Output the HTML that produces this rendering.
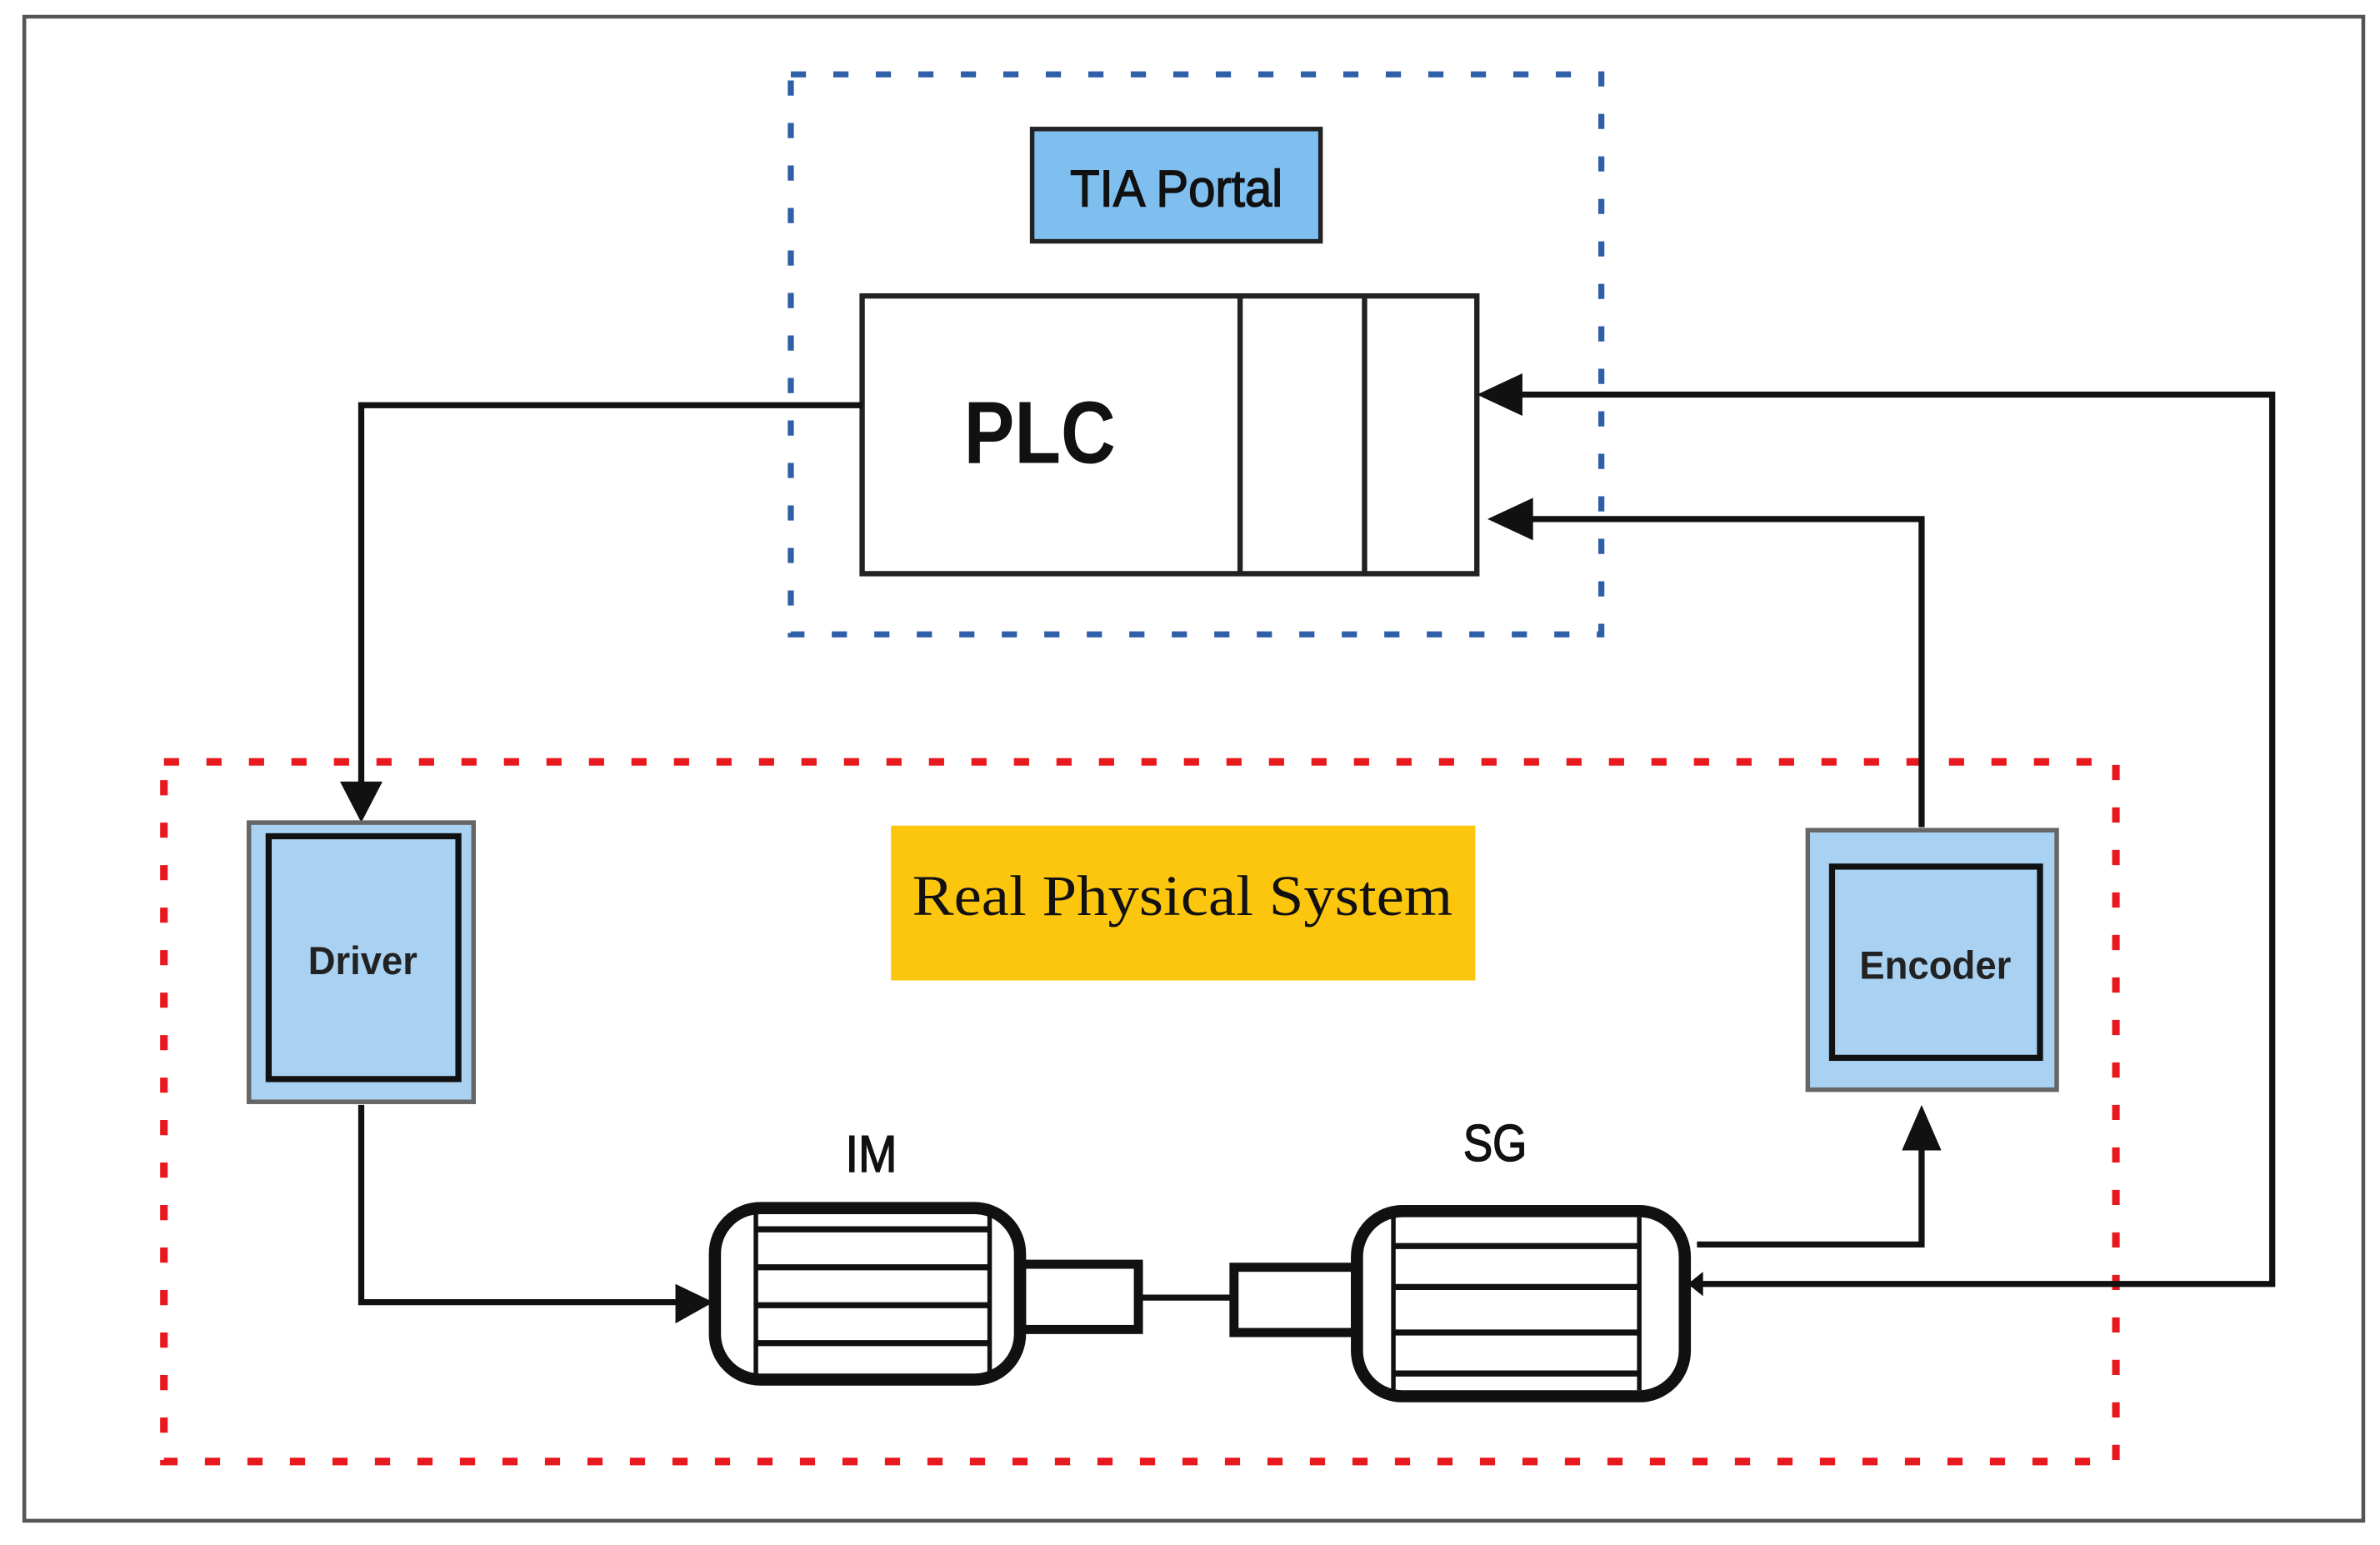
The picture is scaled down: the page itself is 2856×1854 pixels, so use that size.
<!DOCTYPE html>
<html><head><meta charset="utf-8"><style>html,body{margin:0;padding:0;background:#fff}svg{display:block}</style></head>
<body>
<svg width="2856" height="1854" viewBox="0 0 1568 1018" preserveAspectRatio="none" xmlns="http://www.w3.org/2000/svg">
<rect x="0" y="0" width="1568" height="1018" fill="#fff"/>
<rect x="16" y="11" width="1541" height="991" fill="none" stroke="#555" stroke-width="2.5"/>
<rect x="521" y="49" width="534" height="369" fill="none" stroke="#2e5fa8" stroke-width="4" stroke-dasharray="10 18"/>
<rect x="108" y="502" width="1286" height="461" fill="none" stroke="#e8191e" stroke-width="5" stroke-dasharray="10 18"/>
<rect x="680" y="85" width="190" height="74" fill="#7fbfef" stroke="#222" stroke-width="3"/>
<text x="775" y="136" text-anchor="middle" font-family="Liberation Sans Narrow, Liberation Sans, sans-serif" font-size="34" textLength="140" lengthAdjust="spacingAndGlyphs" fill="#111" stroke="#111" stroke-width="0.8">TIA Portal</text>
<rect x="568" y="195" width="405" height="183" fill="#fff" stroke="#222" stroke-width="3.5"/>
<line x1="817" y1="195" x2="817" y2="378" stroke="#222" stroke-width="3.5"/>
<line x1="899" y1="195" x2="899" y2="378" stroke="#222" stroke-width="3.5"/>
<text x="685" y="305" text-anchor="middle" font-family="Liberation Sans, sans-serif" font-weight="bold" font-size="58" textLength="100" lengthAdjust="spacingAndGlyphs" fill="#111">PLC</text>
<g fill="none" stroke="#111" stroke-width="4">
<polyline points="568,267 238,267 238,520"/>
<polyline points="238,728 238,858 450,858"/>
<polyline points="1118,820 1266,820 1266,755"/>
<polyline points="1112,846 1497,846 1497,260 1000,260"/>
<polyline points="1266,545 1266,342 1005,342"/>
<line x1="750" y1="855" x2="813" y2="855"/>
</g>
<g fill="#111">
<polygon points="224,515 252,515 238,542"/>
<polygon points="445,846 470,858 445,872"/>
<polygon points="1253,758 1279,758 1266,728"/>
<polygon points="1003,246 1003,274 973,260"/>
<polygon points="1010,328 1010,356 980,342"/>
<polygon points="1122,838 1122,854 1112,846"/>
</g>
<rect x="164" y="542" width="148" height="184" fill="#a9d1f1" stroke="#666" stroke-width="3"/>
<rect x="177" y="551" width="125" height="160" fill="#a9d1f1" stroke="#111" stroke-width="4"/>
<text x="239" y="642" text-anchor="middle" font-family="Liberation Sans Narrow, Liberation Sans, sans-serif" font-weight="bold" font-size="26" textLength="72" lengthAdjust="spacingAndGlyphs" fill="#222">Driver</text>
<rect x="1191" y="547" width="164" height="171" fill="#a9d1f1" stroke="#666" stroke-width="3"/>
<rect x="1207" y="571" width="137" height="126" fill="#a9d1f1" stroke="#111" stroke-width="4"/>
<text x="1275" y="645" text-anchor="middle" font-family="Liberation Sans Narrow, Liberation Sans, sans-serif" font-weight="bold" font-size="26" textLength="100" lengthAdjust="spacingAndGlyphs" fill="#222">Encoder</text>
<rect x="587" y="544" width="385" height="102" fill="#fdc60e"/>
<text x="779" y="603" text-anchor="middle" font-family="Liberation Serif, serif" font-size="38" textLength="356" lengthAdjust="spacingAndGlyphs" fill="#111">Real Physical System</text>
<text x="574" y="772" text-anchor="middle" font-family="Liberation Sans Narrow, Liberation Sans, sans-serif" font-size="34" textLength="34" lengthAdjust="spacingAndGlyphs" fill="#111" stroke="#111" stroke-width="0.8">IM</text>
<text x="985" y="765" text-anchor="middle" font-family="Liberation Sans Narrow, Liberation Sans, sans-serif" font-size="34" textLength="42" lengthAdjust="spacingAndGlyphs" fill="#111" stroke="#111" stroke-width="0.8">SG</text>
<g stroke="#111" fill="#fff">
<rect x="673" y="833" width="77" height="43" stroke-width="6"/>
<rect x="813" y="835" width="80" height="43" stroke-width="6"/>
<rect x="471" y="796" width="201" height="113" rx="30" stroke-width="8"/>
<line x1="498" y1="800" x2="498" y2="905" stroke-width="3"/>
<line x1="652" y1="800" x2="652" y2="905" stroke-width="3"/>
<g stroke-width="4"><line x1="498" y1="810" x2="652" y2="810"/><line x1="498" y1="835" x2="652" y2="835"/><line x1="498" y1="860" x2="652" y2="860"/><line x1="498" y1="885" x2="652" y2="885"/></g>
<rect x="894" y="798" width="216" height="122" rx="30" stroke-width="8"/>
<line x1="918" y1="802" x2="918" y2="916" stroke-width="3"/>
<line x1="1080" y1="802" x2="1080" y2="916" stroke-width="3"/>
<g stroke-width="4"><line x1="918" y1="821" x2="1080" y2="821"/><line x1="918" y1="848" x2="1080" y2="848"/><line x1="918" y1="878" x2="1080" y2="878"/><line x1="918" y1="905" x2="1080" y2="905"/></g>
</g>
</svg>
</body></html>
